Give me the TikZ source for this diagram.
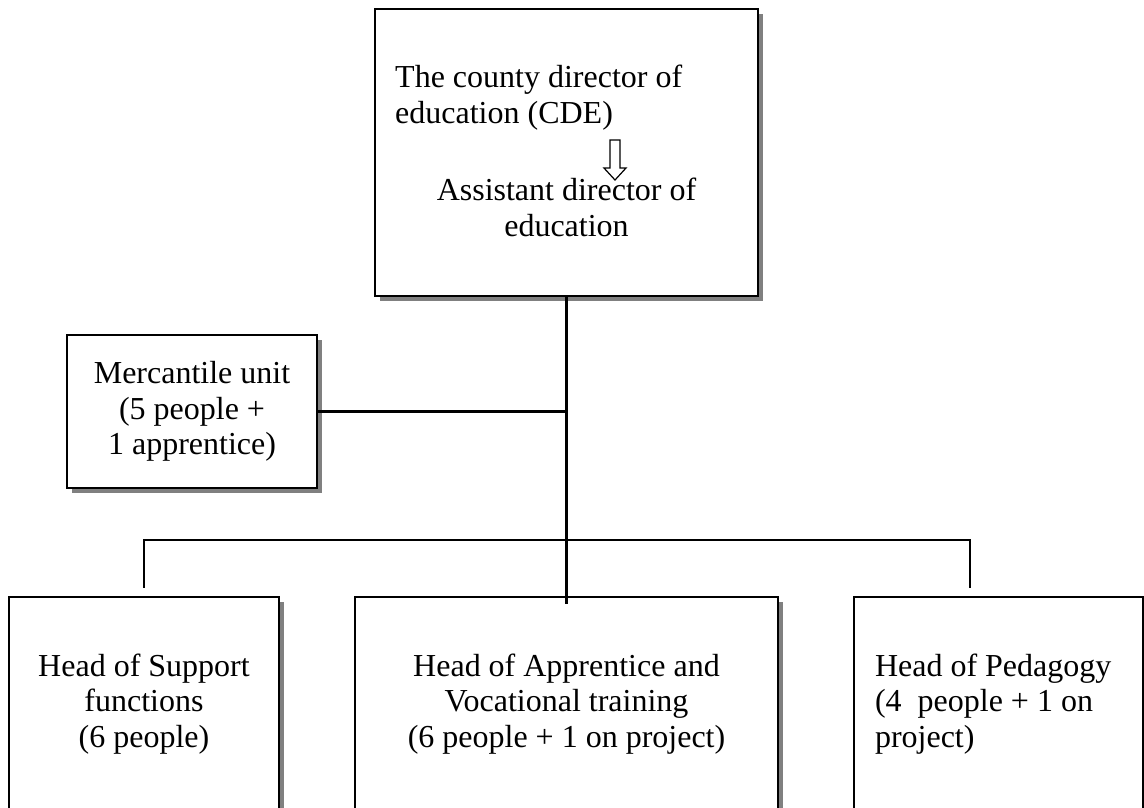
\documentclass[tikz,border=0pt]{standalone}
\usepackage{fontspec}
\setmainfont{Liberation Serif}
\usetikzlibrary{shadows}

\begin{document}
\begin{tikzpicture}[x=1pt,y=-1pt,
  font=\fontsize{32}{35.5}\selectfont,
  box/.style={draw, fill=white, line width=2.2pt, inner sep=0pt, align=center,
    drop shadow={shadow xshift=5pt, shadow yshift=-5pt, fill=black!50, opacity=1}},
  link/.style={line width=2.2pt}]
  \useasboundingbox (0,0) rectangle (1144,807);
  \clip (0,0) rectangle (1144,807);

  % top box
  \node[box, minimum width=383pt, minimum height=287pt] (cde) at (566.5,152.5) {};
  \node[anchor=north west, inner sep=0pt, align=flush left] (cdetext) at (395,65) {The county director of\\education (CDE)};
  \draw[line width=1.2pt, fill=white] (610,140) -- (620,140) -- (620,168) -- (626,168)
    -- (615,180) -- (604,168) -- (610,168) -- cycle;
  \node[anchor=north, inner sep=0pt, align=center] (asst) at (566.5,178) {Assistant director of\\education};

  % units
  \node[box, minimum width=250pt, minimum height=153pt] (merc) at (192,411.5) {Mercantile unit\\(5 people +\\1 apprentice)};
  \node[box, minimum width=270pt, minimum height=214pt] (supp) at (144,704) {Head of Support\\functions\\(6 people)};
  \node[box, minimum width=423pt, minimum height=214pt] (voc) at (566.5,704) {Head of Apprentice and\\Vocational training\\(6 people + 1 on project)};
  \node[box, minimum height=214pt, text width=247pt, inner xsep=21pt, align=flush left] (ped) at (998.5,704) {Head of Pedagogy\\(4\ \ people + 1 on\\project)};

  % lines
  \coordinate (bus) at (566.5,540);
  \draw[link] (cde.south) -- ([yshift=-8pt]voc.north);
  \draw[link] (merc.east) -- (merc.east -| cde.south);
  \draw[link] ([yshift=8pt]supp.north) |- (bus) -| ([xshift=-28.5pt,yshift=8pt]ped.north);
\end{tikzpicture}
\end{document}
